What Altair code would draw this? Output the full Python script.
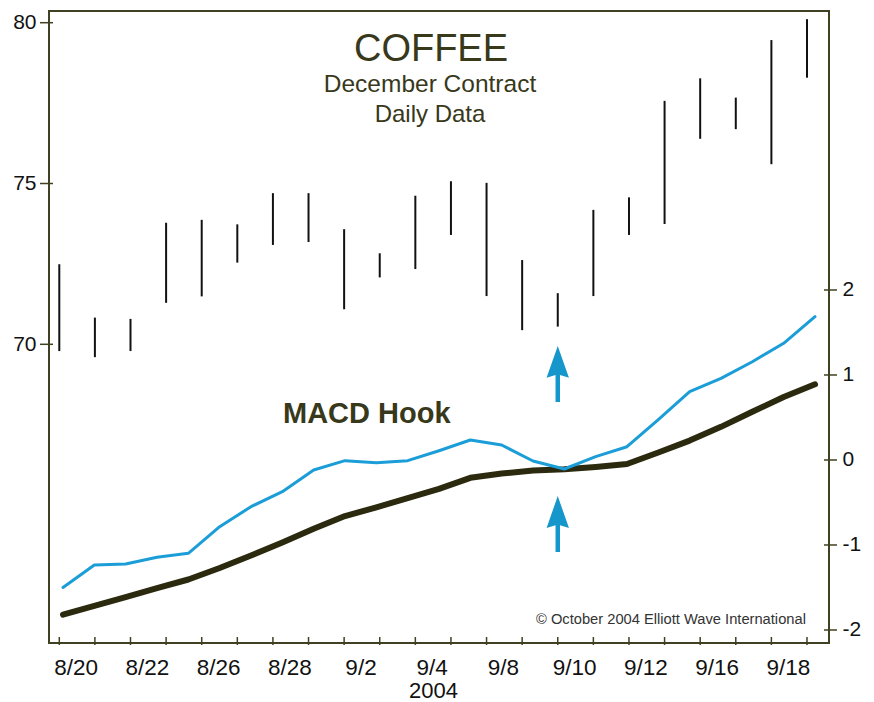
import altair as alt
import pandas as pd

# ---------------- data ----------------
# daily price bars (22 sessions), high / low
DAY_INDEX = list(range(22))
HIGH = [72.49, 70.83, 70.79, 73.78, 73.87, 73.73, 74.70, 74.70, 73.58, 72.83, 74.62,
        75.07, 75.02, 72.62, 71.59, 74.18, 74.57, 77.57, 78.27, 77.67, 79.46, 80.11]
LOW = [69.79, 69.60, 69.79, 71.29, 71.49, 72.54, 73.09, 73.18, 71.09, 72.08, 72.34,
       73.40, 71.50, 70.44, 70.55, 71.50, 73.40, 73.74, 76.39, 76.69, 75.60, 78.29]

# x-axis labels (every other session, centred between a pair of sessions)
DATE_LABELS = ["8/20", "8/22", "8/26", "8/28", "9/2", "9/4", "9/8", "9/10", "9/12", "9/16", "9/18"]
LABEL_POS = [0.46, 2.46, 4.46, 6.46, 8.46, 10.46, 12.46, 14.46, 16.46, 18.46, 20.46]
YEAR_LABEL = "2004"

# MACD (blue) and signal (black) lines, 25 points
MACD_INDEX = list(range(25))
MACD_LINE = [-1.50, -1.235, -1.224, -1.145, -1.098, -0.785, -0.549, -0.373, -0.118, -0.008,
             -0.032, -0.008, 0.109, 0.235, 0.176, -0.012, -0.106, 0.039, 0.156, 0.476,
             0.804, 0.961, 1.156, 1.373, 1.686]
SIGNAL_LINE = [-1.82, -1.716, -1.612, -1.508, -1.406, -1.27, -1.124, -0.97, -0.81, -0.66,
               -0.557, -0.45, -0.34, -0.21, -0.16, -0.124, -0.11, -0.082, -0.047, 0.088,
               0.228, 0.39, 0.567, 0.742, 0.89]

PRICE_TICKS = [70, 75, 80]
MACD_TICKS = [-2, -1, 0, 1, 2]

# hook arrows (session index, price-scale position)
ARROW_DAY = [14, 14]
ARROW_PRICE = [69.08, 64.41]

TITLE = "COFFEE"
SUBTITLE_1 = "December Contract"
SUBTITLE_2 = "Daily Data"
HOOK_LABEL = "MACD Hook"
COPYRIGHT = "© October 2004 Elliott Wave International"

# ---------------- styling ----------------
FONT = "Liberation Sans"
OLIVE = "#38381a"
FRAME = "#404022"
BLUE = "#1b9dd8"
ARROW_BLUE = "#1597cb"
SIGNAL = "#2b2a0f"
W, H = 780, 632

price_df = pd.DataFrame({"day": DAY_INDEX, "high": HIGH, "low": LOW})
macd_df = pd.DataFrame({"i": MACD_INDEX, "macd": MACD_LINE, "signal": SIGNAL_LINE})
arrow_df = pd.DataFrame({"day": ARROW_DAY, "price": ARROW_PRICE})

xs = alt.Scale(domain=[-0.289, 21.618], nice=False, zero=False)
ys = alt.Scale(domain=[60.712, 80.364], nice=False, zero=False)
xm = alt.Scale(domain=[-0.447, 24.447], nice=False, zero=False)
ym = alt.Scale(domain=[-2.153, 5.282], nice=False, zero=False)

label_array = "[" + ",".join("'" + s + "'" for s in DATE_LABELS) + "]"

x_axis = alt.Axis(
    values=LABEL_POS, labelExpr=label_array + "[floor(datum.value/2)]",
    labelPadding=13, labelFontSize=22.5, labelFont=FONT, labelColor="#111111",
    ticks=False, tickSize=0, domain=False, grid=False,
    title=YEAR_LABEL, titleFont=FONT, titleFontSize=22, titleFontWeight="normal",
    titleColor="#111111", titleX=384, titleY=37, titleAlign="center", titleBaseline="top",
)
y_axis = alt.Axis(
    values=PRICE_TICKS, labelFontSize=21, labelFont=FONT, labelColor="#111111",
    labelPadding=13, ticks=False, tickSize=0, domain=False, grid=False, title=None,
)
y_axis_r = alt.Axis(
    orient="right", values=MACD_TICKS, labelExpr="'' + datum.value",
    labelFontSize=21, labelFont=FONT, labelColor="#111111",
    labelPadding=13, ticks=False, tickSize=0, domain=False, grid=False, title=None,
)

bars = alt.Chart(price_df).mark_rule(color="#111111", strokeWidth=2).encode(
    x=alt.X("day:Q", scale=xs, axis=x_axis),
    y=alt.Y("low:Q", scale=ys, axis=y_axis),
    y2="high:Q",
)

arrow_path = "M0,-1 L0.4,0.14 L0.08,0.04 L0.08,1 L-0.08,1 L-0.08,0.04 L-0.4,0.14 Z"
arrows = alt.Chart(arrow_df).mark_point(
    shape=arrow_path, filled=True, size=3136, color=ARROW_BLUE, opacity=1, strokeWidth=0
).encode(
    x=alt.X("day:Q", scale=xs, axis=x_axis),
    y=alt.Y("price:Q", scale=ys, axis=y_axis),
)

bottom_ticks = alt.Chart(pd.DataFrame({"day": DAY_INDEX})).mark_rule(
    color=FRAME, strokeWidth=1.5
).encode(
    x=alt.X("day:Q", scale=xs, axis=x_axis),
    y=alt.value(H - 6), y2=alt.value(H + 2),
)
left_ticks = alt.Chart(pd.DataFrame({"p": PRICE_TICKS})).mark_rule(
    color=FRAME, strokeWidth=1.5
).encode(
    y=alt.Y("p:Q", scale=ys, axis=y_axis),
    x=alt.value(-9), x2=alt.value(4),
)


def label(text, x, y, size, weight="normal", align="center", color=OLIVE):
    return alt.Chart(pd.DataFrame({"t": [text]})).mark_text(
        font=FONT, fontSize=size, fontWeight=weight, color=color,
        align=align, baseline="alphabetic",
    ).encode(x=alt.value(x), y=alt.value(y), text="t:N")


texts = [
    label(TITLE, 382, 50, 38),
    label(SUBTITLE_1, 381, 81, 24.5),
    label(SUBTITLE_2, 381, 110.5, 24),
    label(HOOK_LABEL, 234, 412, 29, weight="bold", align="left"),
    label(COPYRIGHT, 487, 613, 14.7, align="left", color="#333333"),
]

price_layer = alt.layer(bars, arrows, bottom_ticks, left_ticks, *texts)

signal_line = alt.Chart(macd_df).mark_line(
    color=SIGNAL, strokeWidth=6, strokeCap="round", strokeJoin="round"
).encode(
    x=alt.X("i:Q", scale=xm, axis=None),
    y=alt.Y("signal:Q", scale=ym, axis=y_axis_r),
)
macd_line = alt.Chart(macd_df).mark_line(
    color=BLUE, strokeWidth=3, strokeCap="round", strokeJoin="round"
).encode(
    x=alt.X("i:Q", scale=xm, axis=None),
    y=alt.Y("macd:Q", scale=ym, axis=y_axis_r),
)
right_ticks = alt.Chart(pd.DataFrame({"m": MACD_TICKS})).mark_rule(
    color=FRAME, strokeWidth=1.5
).encode(
    y=alt.Y("m:Q", scale=ym, axis=y_axis_r),
    x=alt.value(W - 5), x2=alt.value(W + 8),
)

macd_layer = alt.layer(signal_line, macd_line, right_ticks)

chart = alt.layer(price_layer, macd_layer).resolve_scale(
    x="independent", y="independent"
).properties(
    width=W, height=H,
    padding={"left": 41, "top": 3, "right": 36, "bottom": 58},
    autosize=alt.AutoSizeParams(type="none"),
    background="white",
).configure_view(
    stroke=FRAME, strokeWidth=2
)

chart.save("out.html", embed_options={"renderer": "svg", "actions": False})
